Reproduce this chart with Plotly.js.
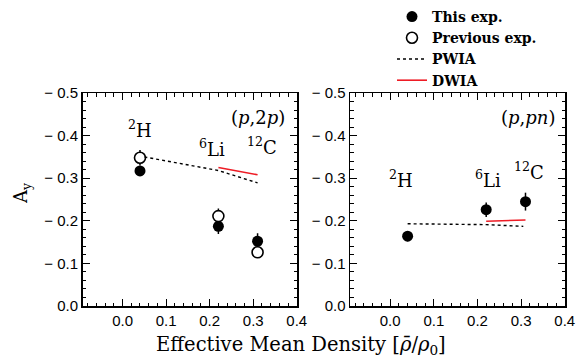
<!DOCTYPE html>
<html>
<head>
<meta charset="utf-8">
<script src="https://cdn.plot.ly/plotly-3.0.1.min.js"></script>
<style>html,body{margin:0;padding:0;background:#fff;}#chart{width:585px;height:360px;}</style>
</head>
<body>
<div id="chart"></div>
<script>
// ---- data ----
const nucleiX = [0.04, 0.22, 0.31];
const nucleiLabels = ["<sup>2</sup>H", "<sup>6</sup>Li", "<sup>12</sup>C"];

// (p,2p)
const pp_this = [-0.317, -0.187, -0.152];
const pp_this_err = [0.010, 0.018, 0.019];
const pp_prev = [-0.348, -0.211, -0.126];
const pp_prev_err = [0.018, 0.018, 0.008];
const pp_pwia_x = [0.05, 0.22, 0.31];
const pp_pwia_y = [-0.350, -0.318, -0.289];
const pp_dwia_x = [0.22, 0.31];
const pp_dwia_y = [-0.325, -0.308];

// (p,pn)
const pn_this = [-0.164, -0.226, -0.245];
const pn_this_err = [0.012, 0.017, 0.021];
const pn_pwia_x = [0.04, 0.22, 0.305];
const pn_pwia_y = [-0.193, -0.191, -0.187];
const pn_dwia_x = [0.22, 0.31];
const pn_dwia_y = [-0.199, -0.202];

const xTickVals = [0, 0.1, 0.2, 0.3, 0.4];
const xTickText = ["0.0", "0.1", "0.2", "0.3", "0.4"];
const yTickVals = [0, -0.1, -0.2, -0.3, -0.4, -0.5];
const yTickText = ["0.0", "\u2212 0.1", "\u2212 0.2", "\u2212 0.3", "\u2212 0.4", "\u2212 0.5"];

// ---- styles ----
const serif = "DejaVu Serif, Liberation Serif, serif";
const sans = "Liberation Sans, Arial, sans-serif";
const filledMarker = {symbol: "circle", size: 11, color: "black"};
const openMarker = {symbol: "circle", size: 11, color: "white", line: {width: 1.6, color: "black"}};
const errStyle = (arr) => ({type: "data", array: arr, visible: true, width: 0, thickness: 1.5, color: "black"});
const pwiaLine = {color: "black", width: 1.4, dash: "3px,3px"};
const dwiaLine = {color: "#ee1c25", width: 1.6};

const traces = [
  {x: nucleiX, y: pp_this, mode: "markers", marker: filledMarker, error_y: errStyle(pp_this_err),
   name: "This exp.", xaxis: "x", yaxis: "y", legendrank: 1},
  {x: nucleiX, y: pp_prev, mode: "markers", marker: openMarker, error_y: errStyle(pp_prev_err),
   name: "Previous exp.", xaxis: "x", yaxis: "y", legendrank: 2},
  {x: pp_pwia_x, y: pp_pwia_y, mode: "lines", line: pwiaLine, name: "PWIA", xaxis: "x", yaxis: "y", legendrank: 3},
  {x: pp_dwia_x, y: pp_dwia_y, mode: "lines", line: dwiaLine, name: "DWIA", xaxis: "x", yaxis: "y", legendrank: 4},
  {x: pn_pwia_x, y: pn_pwia_y, mode: "lines", line: pwiaLine, showlegend: false, xaxis: "x2", yaxis: "y2"},
  {x: pn_dwia_x, y: pn_dwia_y, mode: "lines", line: dwiaLine, showlegend: false, xaxis: "x2", yaxis: "y2"},
  {x: nucleiX, y: pn_this, mode: "markers", marker: filledMarker, error_y: errStyle(pn_this_err),
   showlegend: false, xaxis: "x2", yaxis: "y2"}
];

const W = 585, H = 360;
const xAxisBase = {
  range: [-0.092, 0.4005], tickvals: xTickVals, ticktext: xTickText,
  ticks: "inside", ticklen: 7, tickwidth: 1.2, tickcolor: "black",
  minor: {dtick: 0.02, tick0: 0, ticks: "inside", ticklen: 3.5, tickwidth: 1, tickcolor: "black"},
  showline: true, linecolor: "black", linewidth: 1.5, mirror: "allticks",
  showgrid: false, zeroline: false,
  tickfont: {family: sans, size: 15, color: "black"}
};
const yAxisBase = {
  range: [0, -0.5], tickvals: yTickVals, ticktext: yTickText,
  ticks: "inside", ticklen: 7, tickwidth: 1.2, tickcolor: "black",
  minor: {dtick: 0.02, tick0: 0, ticks: "inside", ticklen: 3.5, tickwidth: 1, tickcolor: "black"},
  showline: true, linecolor: "black", linewidth: 1.5, mirror: "allticks",
  showgrid: false, zeroline: false,
  tickfont: {family: sans, size: 15, color: "black"}
};

const yDom = [(H - 306) / H, (H - 93) / H];
const layout = {
  width: W, height: H,
  margin: {l: 0, r: 0, t: 0, b: 0},
  paper_bgcolor: "white", plot_bgcolor: "white",
  showlegend: true,
  legend: {x: 392 / W, y: 1 - 1 / H, xanchor: "left", yanchor: "top",
           font: {family: serif, size: 14, color: "black", weight: "bold"},
           bgcolor: "rgba(0,0,0,0)", tracegroupgap: 0, itemwidth: 30},
  xaxis: Object.assign({}, xAxisBase, {domain: [82.5 / W, 297 / W], anchor: "y"}),
  yaxis: Object.assign({}, yAxisBase, {domain: yDom, anchor: "x"}),
  xaxis2: Object.assign({}, xAxisBase, {domain: [350 / W, 565 / W], anchor: "y2"}),
  yaxis2: Object.assign({}, yAxisBase, {domain: yDom, anchor: "x2"}),
  annotations: [
    {text: "(<i>p</i>,2<i>p</i>)", xref: "x", yref: "y", x: 0.4, y: -0.442, xanchor: "right", yanchor: "middle",
     xshift: -10, showarrow: false, font: {family: serif, size: 18, color: "black"}},
    {text: "(<i>p</i>,<i>pn</i>)", xref: "x2", yref: "y2", x: 0.4, y: -0.442, xanchor: "right", yanchor: "middle",
     xshift: -8, showarrow: false, font: {family: serif, size: 18, color: "black"}},
    {text: nucleiLabels[0], xref: "x", yref: "y", x: nucleiX[0], y: -0.415, showarrow: false, font: {family: serif, size: 18, color: "black"}},
    {text: nucleiLabels[1], xref: "x", yref: "y", x: 0.205, y: -0.372, showarrow: false, font: {family: serif, size: 18, color: "black"}},
    {text: nucleiLabels[2], xref: "x", yref: "y", x: 0.32, y: -0.376, showarrow: false, font: {family: serif, size: 18, color: "black"}},
    {text: nucleiLabels[0], xref: "x2", yref: "y2", x: 0.025, y: -0.297, showarrow: false, font: {family: serif, size: 18, color: "black"}},
    {text: nucleiLabels[1], xref: "x2", yref: "y2", x: 0.225, y: -0.297, showarrow: false, font: {family: serif, size: 18, color: "black"}},
    {text: nucleiLabels[2], xref: "x2", yref: "y2", x: 0.318, y: -0.316, showarrow: false, font: {family: serif, size: 18, color: "black"}},
    {text: "Effective Mean Density [<i>\u03C1\u0304</i>/<i>\u03C1</i><sub>0</sub>]", xref: "paper", yref: "paper",
     x: 301 / W, y: 1 - 345 / H, xanchor: "center", yanchor: "middle", showarrow: false,
     font: {family: serif, size: 19.5, color: "black"}},
    {text: "A<sub>y</sub>", xref: "paper", yref: "paper", x: 22 / W, y: 1 - 193 / H, textangle: -90,
     xanchor: "center", yanchor: "middle", showarrow: false, font: {family: serif, size: 18, color: "black"}}
  ]
};

Plotly.newPlot("chart", traces, layout, {displayModeBar: false, staticPlot: true});
</script>
</body>
</html>
